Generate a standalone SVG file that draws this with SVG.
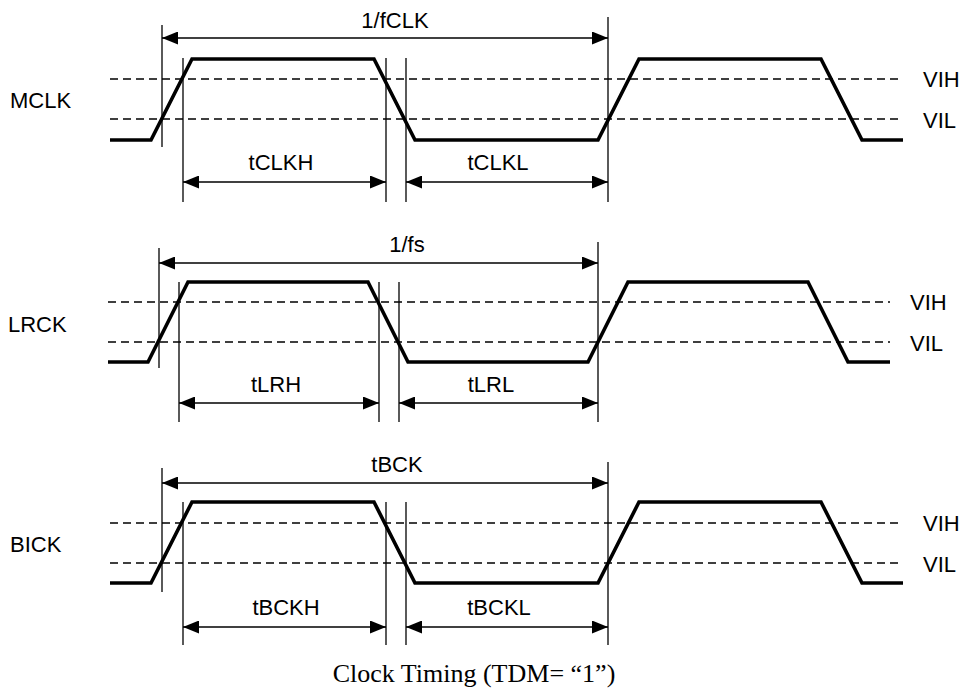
<svg xmlns="http://www.w3.org/2000/svg" width="964" height="699" viewBox="0 0 964 699">
<defs>
<marker id="ah" viewBox="0 0 16 13" refX="16" refY="6.5" markerWidth="16" markerHeight="13" markerUnits="userSpaceOnUse" orient="auto-start-reverse">
<path d="M0,0 L16,6.5 L0,13 Z" fill="#000"/>
</marker>
<style>
.wave{fill:none;stroke:#000;stroke-width:3.6;stroke-linejoin:miter}
.ref{fill:none;stroke:#000;stroke-width:1.3;stroke-dasharray:8 5}
.v{stroke:#000;stroke-width:1.3}
.dim{stroke:#000;stroke-width:1.3;marker-start:url(#ah);marker-end:url(#ah)}
.t{font-family:"Liberation Sans",Arial,sans-serif;font-size:22px;fill:#000}
.m{text-anchor:middle}
.cap{font-family:"Liberation Serif","Times New Roman",serif;font-size:26px;fill:#000}
</style>
</defs>
<rect width="964" height="699" fill="#fff"/>

<g id="mclk">
<line class="ref" x1="110" y1="79" x2="903" y2="79"/>
<line class="ref" x1="110" y1="119" x2="903" y2="119"/>
<polyline class="wave" points="110,140 151,140 192,59 374,59 415,140 598,140 639,59 821,59 862,140 903,140"/>
<text class="t" x="10" y="108">MCLK</text>
<text class="t" x="923" y="87">VIH</text>
<text class="t" x="923" y="128">VIL</text>
</g>

<g id="lrck">
<line class="ref" x1="108" y1="302" x2="890" y2="302"/>
<line class="ref" x1="108" y1="342" x2="890" y2="342"/>
<polyline class="wave" points="108,362 148,362 188,282 368,282 408,362 588,362 628,282 808,282 848,362 890,362"/>
<text class="t" x="8" y="332">LRCK</text>
<text class="t" x="910" y="310">VIH</text>
<text class="t" x="910" y="351">VIL</text>
</g>

<g id="bick">
<line class="ref" x1="110" y1="523" x2="903" y2="523"/>
<line class="ref" x1="110" y1="563" x2="903" y2="563"/>
<polyline class="wave" points="110,583 151,583 192,502 374,502 415,583 598,583 639,502 821,502 862,583 903,583"/>
<text class="t" x="10" y="552">BICK</text>
<text class="t" x="923" y="531">VIH</text>
<text class="t" x="923" y="572">VIL</text>
</g>

<g id="connectors">
<line class="v" x1="162" y1="25" x2="162" y2="147"/>
<line class="v" x1="183" y1="58" x2="183" y2="202"/>
<line class="v" x1="386" y1="58" x2="386" y2="202"/>
<line class="v" x1="406" y1="58" x2="406" y2="202"/>
<line class="v" x1="608" y1="17" x2="608" y2="202"/>
<line class="dim" x1="162" y1="38" x2="608" y2="38"/>
<line class="dim" x1="183" y1="182" x2="386" y2="182"/>
<line class="dim" x1="406" y1="182" x2="608" y2="182"/>
<line class="v" x1="159" y1="248" x2="159" y2="368"/>
<line class="v" x1="179" y1="282" x2="179" y2="422"/>
<line class="v" x1="379" y1="282" x2="379" y2="422"/>
<line class="v" x1="399" y1="282" x2="399" y2="422"/>
<line class="v" x1="598" y1="242" x2="598" y2="422"/>
<line class="dim" x1="159" y1="263" x2="598" y2="263"/>
<line class="dim" x1="179" y1="403" x2="379" y2="403"/>
<line class="dim" x1="399" y1="403" x2="598" y2="403"/>
<line class="v" x1="162" y1="468" x2="162" y2="592"/>
<line class="v" x1="183" y1="502" x2="183" y2="645"/>
<line class="v" x1="386" y1="502" x2="386" y2="645"/>
<line class="v" x1="406" y1="502" x2="406" y2="645"/>
<line class="v" x1="608" y1="462" x2="608" y2="645"/>
<line class="dim" x1="162" y1="483" x2="608" y2="483"/>
<line class="dim" x1="183" y1="627" x2="386" y2="627"/>
<line class="dim" x1="406" y1="627" x2="608" y2="627"/>
</g>

<g id="labels">
<text class="t m" x="395" y="28">1/fCLK</text>
<text class="t m" x="281" y="170">tCLKH</text>
<text class="t m" x="498" y="170">tCLKL</text>
<text class="t m" x="407" y="252">1/fs</text>
<text class="t m" x="276" y="392">tLRH</text>
<text class="t m" x="491" y="392">tLRL</text>
<text class="t m" x="397" y="472">tBCK</text>
<text class="t m" x="286" y="615">tBCKH</text>
<text class="t m" x="499" y="615">tBCKL</text>
</g>

<text id="caption" class="cap" x="474" y="682" text-anchor="middle">Clock Timing (TDM= “1”)</text>
</svg>
